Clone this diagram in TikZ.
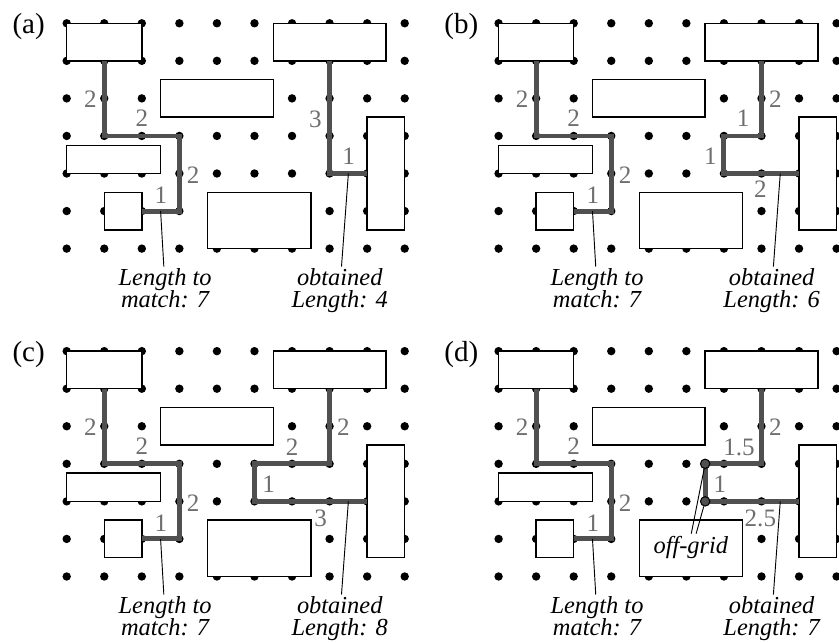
\documentclass[tikz,border=0pt]{standalone}
\usepackage{fontspec}
\setmainfont{Liberation Serif}[ItalicFont={Liberation Serif Italic}]
\usetikzlibrary{positioning,calc}
\definecolor{wire}{HTML}{505050}
\definecolor{seglbl}{HTML}{6E6E6E}

\begin{document}
\begin{tikzpicture}[
  pin/.style={fill=black},
  block/.style={draw, fill=white, line width=1.1pt},
  route/.style={draw=wire, line width=3.7pt},
  seg/.style={text=seglbl, inner sep=0pt, font=\fontsize{19}{19}\selectfont},
  note/.style={align=center, inner sep=1pt, font=\fontsize{18.5}{17}\selectfont\itshape},
  lead/.style={line width=0.7pt},
  tag/.style={anchor=west, inner sep=0pt, font=\fontsize{22}{22}\selectfont},
  offg/.style={circle, draw, fill=wire, minimum size=0.25cm, inner sep=0pt, line width=0.8pt}
]
  \useasboundingbox (-1.776,0.62) rectangle (20.564,-16.48);

  % Common part of the four panels
  \foreach \p/\px/\py/\len in {a/0/0/4, b/11.5/0/6, c/0/-8.73/8, d/11.5/-8.73/7}{
    \begin{scope}[shift={(\px,\py)}]
      % grid pins
      \foreach \i in {0,...,9}
        \foreach \j in {0,...,6}
          \fill[pin] (\i,-\j) circle (0.112);
      % blocks
      \draw[block] (0,0) rectangle (2,-1);
      \draw[block] (5.5,0) rectangle (8.5,-1);
      \draw[block] (2.5,-1.5) rectangle (5.5,-2.5);
      \draw[block] (0,-3.25) rectangle (2.5,-4);
      \draw[block] (1,-4.5) rectangle (2,-5.5);
      \draw[block] (3.75,-4.5) rectangle (6.5,-6);
      \draw[block] (8,-2.5) rectangle (9,-5.5);
      \node[tag] (\p-tag) at (-1.45,-0.09) {(\p)};
      % reference net
      \draw[route] (1,-1) |- (3,-3) |- (2,-5);
      \node[seg] at (0.63,-2.02) {2};
      \node[seg] at (2.0,-2.54) {2};
      \node[seg] at (3.37,-4.04) {2};
      \node[seg] at (2.51,-4.58) {1};
      \coordinate (\p-ref) at (2.5,-5);
      \coordinate (\p-net) at (7.5,-4);
      \node[note, anchor=north] (\p-match) at (2.62,-6.48) {Length to\\match: 7};
      \node[note, anchor=north] (\p-got) at (7.27,-6.48) {obtained\\Length: \len};
      \draw[lead] (\p-ref) -- (\p-match);
    \end{scope}
  }

  % (a)
  \draw[route] (7,-1) |- (8,-4);
  \node[seg] at (6.62,-2.55) {3};
  \node[seg] at (7.51,-3.55) {1};
  \draw[lead] (a-net) -- (a-got);

  % (b)
  \begin{scope}[shift={(11.5,0)}]
    \draw[route] (7,-1) -- (7,-3) -| (6,-4) -- (8,-4);
    \node[seg] at (7.37,-2.03) {2};
    \node[seg] at (6.51,-2.54) {1};
    \node[seg] at (5.64,-3.55) {1};
    \node[seg] at (6.97,-4.42) {2};
  \end{scope}
  \draw[lead] (b-net) -- (b-got);

  % (c)
  \begin{scope}[shift={(0,-8.73)}]
    \draw[route] (7,-1) -- (7,-3) -| (5,-4) -- (8,-4);
    \node[seg] at (7.37,-2.03) {2};
    \node[seg] at (6.0,-2.55) {2};
    \node[seg] at (5.38,-3.55) {1};
    \node[seg] at (6.76,-4.45) {3};
  \end{scope}
  \draw[lead] (c-net) -- (c-got);

  % (d)
  \begin{scope}[shift={(11.5,-8.73)}]
    \draw[route] (7,-1) -- (7,-3) -| (5.5,-4) -- (8,-4);
    \node[seg] at (7.37,-2.03) {2};
    \node[seg] at (6.4,-2.55) {1.5};
    \node[seg] at (5.89,-3.55) {1};
    \node[seg] at (6.97,-4.45) {2.5};
    \node[offg] (d-og1) at (5.5,-3) {};
    \node[offg] (d-og2) at (5.5,-4) {};
    \node[note, anchor=north] (d-off) at (5.12,-4.88) {off-grid};
    \coordinate (d-oga) at (5.13,-4.86);
    \coordinate (d-ogb) at (5.26,-4.86);
  \end{scope}
  \draw[lead] (d-og1) -- (d-oga);
  \draw[lead] (d-og2) -- (d-ogb);
  \draw[lead] (d-net) -- (d-got);
\end{tikzpicture}
\end{document}
